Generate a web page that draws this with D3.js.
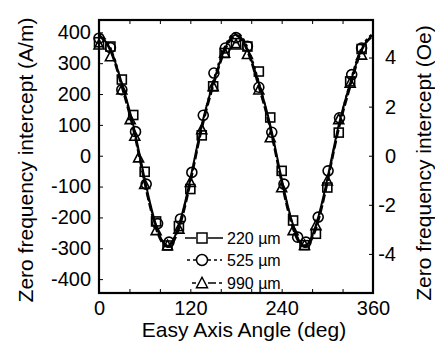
<!DOCTYPE html>
<html>
<head>
<meta charset="utf-8">
<script src="https://cdn.jsdelivr.net/npm/d3@7"></script>
<style>
  body { margin: 0; background: #ffffff; }
  svg { display: block; font-family: "Liberation Sans", Arial, sans-serif; }
</style>
</head>
<body>
<svg id="chart"></svg>
<script>
const angles220 = [0, 15, 30, 45, 60, 75, 90, 105, 120, 135, 150, 165, 180, 195, 210, 225, 240, 255, 270, 285, 300, 315, 330, 345];
const values220 = [368, 354, 247, 132, -52, -213, -291, -228, -108, 66, 225, 333, 365, 354, 273, 124, -49, -210, -290, -253, -103, 75, 241, 346];

const angles525 = [0, 15, 30, 48, 62, 77, 92, 107, 122, 137, 151, 166, 180, 195, 210, 227, 243, 261, 272, 288, 301, 316, 332, 345];
const values525 = [381, 350, 214, 78, -92, -220, -280, -205, -54, 131, 268, 349, 383, 355, 222, 76, -92, -264, -280, -199, -49, 123, 263, 349];

const angles990 = [0, 15, 30, 41, 47, 52, 60, 75, 90, 105, 120, 135, 150, 165, 180, 195, 210, 225, 240, 255, 270, 285, 300, 315, 330, 345];
const values990 = [360, 322, 214, 118, 64, -6, -92, -242, -291, -237, -86, 85, 225, 333, 360, 329, 214, 59, -103, -242, -290, -226, -81, 118, 236, 327];

// fitted curves, sampled every 15 deg
const fitAngles = [0, 15, 30, 45, 60, 75, 90, 105, 120, 135, 150, 165, 180, 195, 210, 225, 240, 255, 270, 285, 300, 315, 330, 345, 360];
const fit220 = [392, 345, 235, 100, -75, -225, -292, -225, -75, 100, 235, 345, 392, 345, 235, 100, -75, -225, -292, -225, -75, 100, 235, 345, 392];
const fit525 = [396, 350, 232, 92, -82, -230, -290, -228, -80, 95, 240, 352, 398, 352, 238, 92, -80, -228, -290, -230, -82, 94, 238, 350, 396];
const fit990 = [388, 340, 222, 85, -90, -238, -296, -238, -90, 85, 225, 338, 388, 338, 222, 85, -90, -238, -296, -238, -90, 85, 222, 340, 388];

const seriesLabels = ["220 \u00b5m", "525 \u00b5m", "990 \u00b5m"];
const xTickLabels = [0, 120, 240, 360];
const yTickLabels = [-400, -300, -200, -100, 0, 100, 200, 300, 400];
const oeTickLabels = [-4, -2, 0, 2, 4];
const amPerOe = 79.577;

const chartWidth = 435, chartHeight = 345;
const plotLeft = 99, plotRight = 373, plotTop = 20, plotBottom = 293;
const yDomain = [-445, 440];

const svg = d3.select("#chart").attr("width", chartWidth).attr("height", chartHeight);
svg.append("rect").attr("width", chartWidth).attr("height", chartHeight).attr("fill", "#fff");

const x = d3.scaleLinear().domain([0, 360]).range([plotLeft, plotRight]);
const y = d3.scaleLinear().domain(yDomain).range([plotBottom, plotTop]);
const yOe = d3.scaleLinear().domain([yDomain[0] / amPerOe, yDomain[1] / amPerOe]).range([plotBottom, plotTop]);

svg.append("defs").append("clipPath").attr("id", "plot-clip")
  .append("rect").attr("x", plotLeft).attr("y", plotTop).attr("width", plotRight - plotLeft).attr("height", plotBottom - plotTop);

function styleAxis(g) {
  g.select(".domain").remove();
  g.selectAll(".tick line").attr("stroke", "#000").attr("stroke-width", 1);
  g.selectAll(".tick text").attr("fill", "#000").style("font-size", "20px");
}

const xTicks = d3.range(0, 361, 40);
svg.append("g").attr("transform", "translate(0," + plotBottom + ")")
  .call(d3.axisBottom(x).tickValues(xTicks).tickSize(-4).tickPadding(8)
    .tickFormat(d => xTickLabels.includes(d) ? String(d) : ""))
  .call(styleAxis)
  .selectAll(".tick text").attr("dy", "0.71em");
svg.append("g").attr("transform", "translate(0," + plotTop + ")")
  .call(d3.axisTop(x).tickValues(xTicks).tickSize(-4).tickFormat(""))
  .call(styleAxis);
svg.append("g").attr("transform", "translate(" + plotLeft + ",0)")
  .call(d3.axisLeft(y).tickValues(yTickLabels).tickSize(-4).tickPadding(8).tickFormat(d => String(d)))
  .call(styleAxis);
svg.append("g").attr("transform", "translate(" + plotRight + ",0)")
  .call(d3.axisRight(yOe).tickValues(oeTickLabels).tickSize(-4).tickFormat(d => String(d)))
  .call(styleAxis)
  .selectAll(".tick text").attr("text-anchor", "end").attr("x", 23);

svg.append("rect").attr("x", plotLeft).attr("y", plotTop).attr("width", plotRight - plotLeft).attr("height", plotBottom - plotTop)
  .attr("fill", "none").attr("stroke", "#000").attr("stroke-width", 2.2);

const series = [
  { label: seriesLabels[0], angles: angles220, values: values220, fit: fit220, dash: null, marker: "square" },
  { label: seriesLabels[1], angles: angles525, values: values525, fit: fit525, dash: "3,3", marker: "circle" },
  { label: seriesLabels[2], angles: angles990, values: values990, fit: fit990, dash: "8,3", marker: "triangle" }
];

const plot = svg.append("g").attr("clip-path", "url(#plot-clip)");
const line = d3.line().x(d => x(d[0])).y(d => y(d[1])).curve(d3.curveNatural);

series.forEach(s => {
  plot.append("path")
    .datum(fitAngles.map((a, i) => [a, s.fit[i]]))
    .attr("d", line)
    .attr("fill", "none").attr("stroke", "#000").attr("stroke-width", 2)
    .attr("stroke-dasharray", s.dash);
});

function drawMarker(g, type, cx, cy, size) {
  if (type === "square") {
    g.append("rect").attr("x", cx - size / 2).attr("y", cy - size / 2).attr("width", size).attr("height", size);
  } else if (type === "circle") {
    g.append("circle").attr("cx", cx).attr("cy", cy).attr("r", size / 2 + 0.5);
  } else {
    const h = size * 0.95;
    g.append("path").attr("d", "M" + cx + "," + (cy - h / 2 - 1) + "L" + (cx + size / 2 + 0.5) + "," + (cy + h / 2) + "L" + (cx - size / 2 - 0.5) + "," + (cy + h / 2) + "Z");
  }
}

series.forEach(s => {
  const g = svg.append("g").attr("fill", "none").attr("stroke", "#000").attr("stroke-width", 1.6);
  s.angles.forEach((a, i) => drawMarker(g, s.marker, x(a), y(s.values[i]), 9));
});

// legend
const legendRows = [
  { y: 238, x1: 185, x2: 223 },
  { y: 260, x1: 187, x2: 222 },
  { y: 283, x1: 192, x2: 222 }
];
series.forEach((s, i) => {
  const r = legendRows[i];
  const cx = 202;
  const g = svg.append("g").attr("stroke", "#000").attr("stroke-width", 1.5);
  g.append("line").attr("x1", r.x1).attr("x2", cx - 6).attr("y1", r.y).attr("y2", r.y).attr("stroke-dasharray", s.dash);
  g.append("line").attr("x1", cx + 6).attr("x2", r.x2).attr("y1", r.y).attr("y2", r.y).attr("stroke-dasharray", s.dash);
  const mg = g.append("g").attr("fill", "#fff");
  drawMarker(mg, s.marker, cx, r.y, 10);
  svg.append("text").attr("x", 227).attr("y", r.y + 6)
    .style("font-size", "16px").attr("fill", "#000").text(s.label);
});

// axis titles
svg.append("text").attr("x", (plotLeft + plotRight) / 2 + 8).attr("y", 337).attr("text-anchor", "middle")
  .style("font-size", "21px").text("Easy Axis Angle (deg)");
svg.append("text").attr("transform", "translate(33," + 160 + ") rotate(-90)").attr("text-anchor", "middle")
  .style("font-size", "21px").text("Zero frequency intercept (A/m)");
svg.append("text").attr("transform", "translate(431," + 163 + ") rotate(-90)").attr("text-anchor", "middle")
  .style("font-size", "21px").text("Zero frequency intercept (Oe)");
</script>
</body>
</html>
